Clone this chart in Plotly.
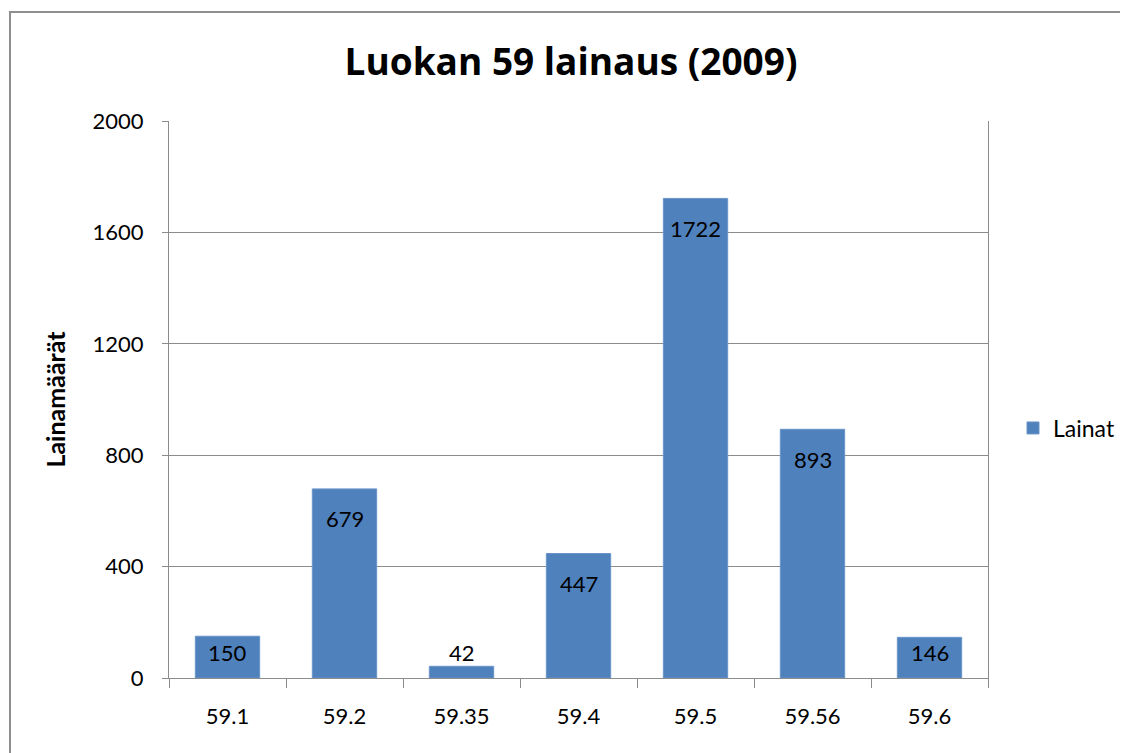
import plotly.graph_objects as go

categories = ["59.1", "59.2", "59.35", "59.4", "59.5", "59.56", "59.6"]
lainat = [150, 679, 42, 447, 1722, 893, 146]
y_ticks = [0, 400, 800, 1200, 1600, 2000]

# figure is drawn with an 8px page offset, so size it to fit the window
W, H = 1120, 745
L, R, T, B = 161, 140, 113, 75
plot_w = W - L - R
plot_h = H - T - B
YMAX = 2000

FONT = "Lato"
BAR = "#4F81BD"
GRID = "#8C8C8C"

fig = go.Figure()
fig.add_trace(go.Bar(
    x=categories, y=lainat, name="Lainat",
    marker=dict(color=BAR, line=dict(color="#6A95C9", width=1)),
    width=0.55,
))

# data labels (Excel "inside end" style)
for i, v in enumerate(lainat):
    hpx = v / YMAX * plot_h
    if hpx > 30:
        shift = -min(30, hpx / 2 - 5)
    else:
        shift = 14
    fig.add_annotation(x=i, y=v, xref="x", yref="y", text=str(v), showarrow=False,
                       yanchor="middle", yshift=shift,
                       font=dict(family=FONT, size=22, color="black"))

# outer chart border
fig.add_shape(type="rect", xref="paper", yref="paper",
              x0=(2 - L) / plot_w, x1=1.3,
              y0=-0.3, y1=(H - B - 4) / plot_h,
              line=dict(color="#8E8E8E", width=2), fillcolor="rgba(0,0,0,0)",
              layer="below")

fig.update_layout(
    width=W, height=H,
    margin=dict(l=L, r=R, t=T, b=B, autoexpand=False),
    paper_bgcolor="white", plot_bgcolor="white",
    title=dict(text="<b>Luokan 59 lainaus (2009)</b>", x=563 / W, xanchor="center",
               y=1 - 54 / H, yanchor="middle", yref="container",
               font=dict(family="Open Sans", size=37, color="black")),
    font=dict(family=FONT, color="black"),
    showlegend=True,
    legend=dict(x=(1005 - L) / plot_w, xanchor="left",
                y=(H - B - 420) / plot_h, yanchor="middle",
                font=dict(family=FONT, size=23, color="black"),
                bgcolor="rgba(0,0,0,0)", itemwidth=30),
    xaxis=dict(
        type="category", showgrid=False,
        showline=True, linecolor=GRID, linewidth=1, mirror=False,
        ticks="outside", tickson="boundaries", ticklen=9, tickcolor=GRID,
        tickfont=dict(family=FONT, size=22, color="black"),
        ticklabelstandoff=19,
    ),
    yaxis=dict(
        range=[0, YMAX], tickvals=y_ticks, showgrid=True, gridcolor=GRID, gridwidth=1,
        showline=True, linecolor=GRID, linewidth=1, mirror=True,
        ticks="outside", ticklen=6, tickcolor=GRID, zeroline=False,
        tickfont=dict(family=FONT, size=22, color="black"),
        ticklabelstandoff=14,
        title=dict(text="<b>Lainamäärät</b>", standoff=19,
                   font=dict(family=FONT, size=25, color="black")),
    ),
)

fig.write_html("out.html")
